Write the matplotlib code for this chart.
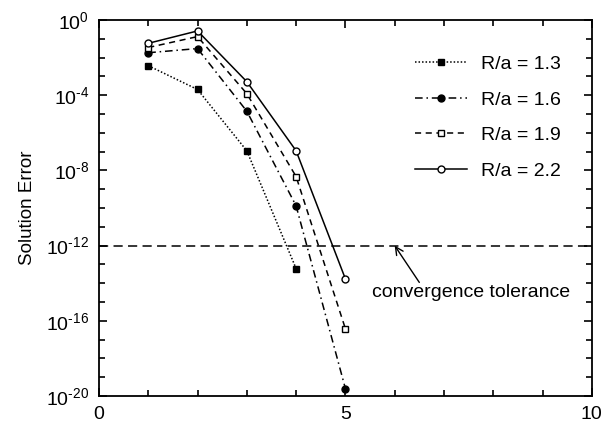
import matplotlib
matplotlib.use("Agg")
import matplotlib.pyplot as plt
from matplotlib.ticker import FixedLocator, FuncFormatter, NullFormatter
import numpy as np

plt.rcParams['font.family'] = ['Liberation Sans', 'DejaVu Sans']
plt.rcParams['mathtext.fontset'] = 'custom'
plt.rcParams['mathtext.rm'] = 'Liberation Sans'
plt.rcParams['axes.unicode_minus'] = False

# Iteration counts and solution errors for each separation ratio
iters_13 = [1, 2, 3, 4]
err_13 = [3.7e-3, 2.0e-4, 1.1e-7, 6.0e-14]

iters_16 = [1, 2, 3, 4, 5]
err_16 = [1.8e-2, 3.0e-2, 1.4e-5, 1.3e-10, 2.5e-20]

iters_19 = [1, 2, 3, 4, 5]
err_19 = [3.4e-2, 1.3e-1, 1.2e-4, 4.7e-9, 3.8e-17]

iters_22 = [1, 2, 3, 4, 5]
err_22 = [5.7e-2, 2.6e-1, 5.2e-4, 1.1e-7, 1.7e-14]

labels = ["R/a = 1.3", "R/a = 1.6", "R/a = 1.9", "R/a = 2.2"]
tolerance = 1e-12

FS = 14

fig = plt.figure(figsize=(6.07, 4.24), dpi=100)
ax = fig.add_axes([0.163, 0.066, 0.812, 0.887])

lw = 1.1
ax.plot(iters_13, err_13, linestyle=(0, (1, 1.3)), color='black', lw=lw,
        marker='s', ms=5, mfc='black', mec='black', label=labels[0])
ax.plot(iters_16, err_16, linestyle=(0, (5, 2.5, 1, 2.5)), color='black', lw=lw,
        marker='o', ms=5, mfc='black', mec='black', label=labels[1])
ax.plot(iters_19, err_19, linestyle=(0, (4, 3)), color='black', lw=lw,
        marker='s', ms=5, mfc='white', mec='black', mew=1.0, label=labels[2])
ax.plot(iters_22, err_22, linestyle='-', color='black', lw=lw,
        marker='o', ms=5, mfc='white', mec='black', mew=1.0, label=labels[3])

ax.axhline(tolerance, color='black', lw=1.1, linestyle=(0, (6, 3.5)))

ax.annotate('', xy=(6.0, tolerance), xytext=(6.5, 1.1e-14),
            arrowprops=dict(arrowstyle='->', color='black', lw=1.0,
                            shrinkA=0, shrinkB=0, mutation_scale=14))
ax.text(7.55, 3.2e-15, "convergence tolerance", ha='center', va='center',
        fontsize=FS)

ax.set_yscale('log')
ax.set_xlim(0, 10)
ax.set_ylim(1e-20, 1e0)

ax.xaxis.set_major_locator(FixedLocator([0, 5, 10]))
ax.xaxis.set_minor_locator(FixedLocator(np.arange(0, 11, 1)))
major_exp = np.arange(-20, 1, 4)
ax.yaxis.set_major_locator(FixedLocator(10.0 ** major_exp))
ax.yaxis.set_minor_locator(FixedLocator(10.0 ** np.arange(-20, 1, 1)))


def pow10_label(v, pos):
    e = int(round(np.log10(v)))
    s = str(abs(e))
    if e < 0:
        s = '\u2010' + s  # plain hyphen in the exponent
    return r'$\mathregular{10^{%s}}$' % s


ax.yaxis.set_major_formatter(FuncFormatter(pow10_label))
ax.yaxis.set_minor_formatter(NullFormatter())
ax.xaxis.set_minor_formatter(NullFormatter())

ax.tick_params(which='both', direction='in', top=True, right=True,
               labelsize=FS, width=1.2)
ax.tick_params(which='major', length=6, pad=7)
ax.tick_params(which='minor', length=4)
for s in ax.spines.values():
    s.set_linewidth(1.3)

ax.set_ylabel("Solution Error", fontsize=13.5, labelpad=7)

leg = ax.legend(loc='upper left', bbox_to_anchor=(0.641, 0.905), frameon=False,
                fontsize=FS, handlelength=2.7, handletextpad=0.7,
                labelspacing=0.92, borderaxespad=0, borderpad=0)

fig.savefig("out.png", dpi=100)
